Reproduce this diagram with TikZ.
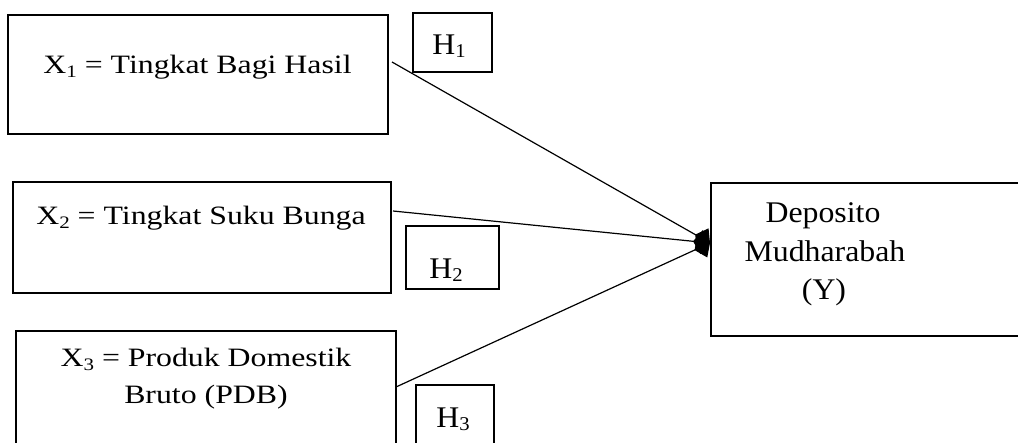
\documentclass[tikz,border=0pt]{standalone}
\usepackage{fontspec}
\setmainfont{Liberation Serif}
\newfontfamily\xfont[FakeStretch=1.2]{Liberation Serif}
\newfontfamily\yfont[FakeStretch=1.06]{Liberation Serif}
\usetikzlibrary{arrows.meta}
\newcommand\xsub[1]{{\fontsize{17.5}{17.5}\selectfont\raisebox{-4pt}{#1}}}
\newcommand\hsub[1]{{\fontsize{19.5}{19.5}\selectfont\raisebox{-2.5pt}{#1}}}
\begin{document}
\begin{tikzpicture}[x=1pt,y=-1pt,
  box/.style={draw,line width=2.8pt,inner sep=0pt,outer sep=0pt},
  conn/.style={line width=1.2pt,-{Diamond[length=17pt,width=24pt]}},
  xlab/.style={font=\xfont\fontsize{26.5}{38}\selectfont,anchor=base,inner sep=0pt},
  ylab/.style={font=\yfont\fontsize{30}{39}\selectfont,anchor=base,inner sep=0pt}]
\fill[white] (0,0) rectangle (1018,443);
\useasboundingbox (0,0) rectangle (1018,443);
\clip (0,0) rectangle (1018,443);
% boxes
\node[box,minimum width=380pt,minimum height=119pt] (x1) at (198,74.5) {};
\node[box,minimum width=378pt,minimum height=111pt] (x2) at (202,237.5) {};
\node[box,minimum width=380pt,minimum height=139pt] (x3) at (206,400.5) {};
\node[box,minimum width=79pt,minimum height=59pt] (h1) at (452.5,42.5) {};
\node[box,minimum width=93pt,minimum height=63pt] (h2) at (452.5,257.5) {};
\node[box,minimum width=78pt,minimum height=85pt] (h3) at (455,427.5) {};
\node[box,minimum width=319pt,minimum height=153pt] (y) at (870.5,259.5) {};
% labels
\node[xlab] (x1t) at (197.5,74) {X\xsub{1} = Tingkat Bagi Hasil};
\node[xlab] (x2t) at (201,225) {X\xsub{2} = Tingkat Suku Bunga};
\node[xlab] (x3ta) at (206,367) {X\xsub{3} = Produk Domestik};
\node[xlab] (x3tb) at (206,404) {Bruto (PDB)};
\node[ylab] (h1t) at (449,55) {H\hsub{1}};
\node[ylab] (h2t) at (446,279) {H\hsub{2}};
\node[ylab] (h3t) at (453,428) {H\hsub{3}};
\node[ylab] (yta) at (823,223) {Deposito};
\node[ylab] (ytb) at (825,262) {Mudharabah};
\node[ylab] (ytc) at (824,300) {(Y)};
% connectors
\coordinate (s1) at (392,62);
\coordinate (s2) at (393,211);
\coordinate (s3) at (396,387);
\coordinate (tip) at (710,243);
\draw[conn] (s1) -- (tip);
\draw[conn] (s2) -- (tip);
\draw[conn] (s3) -- (tip);
\end{tikzpicture}
\end{document}
